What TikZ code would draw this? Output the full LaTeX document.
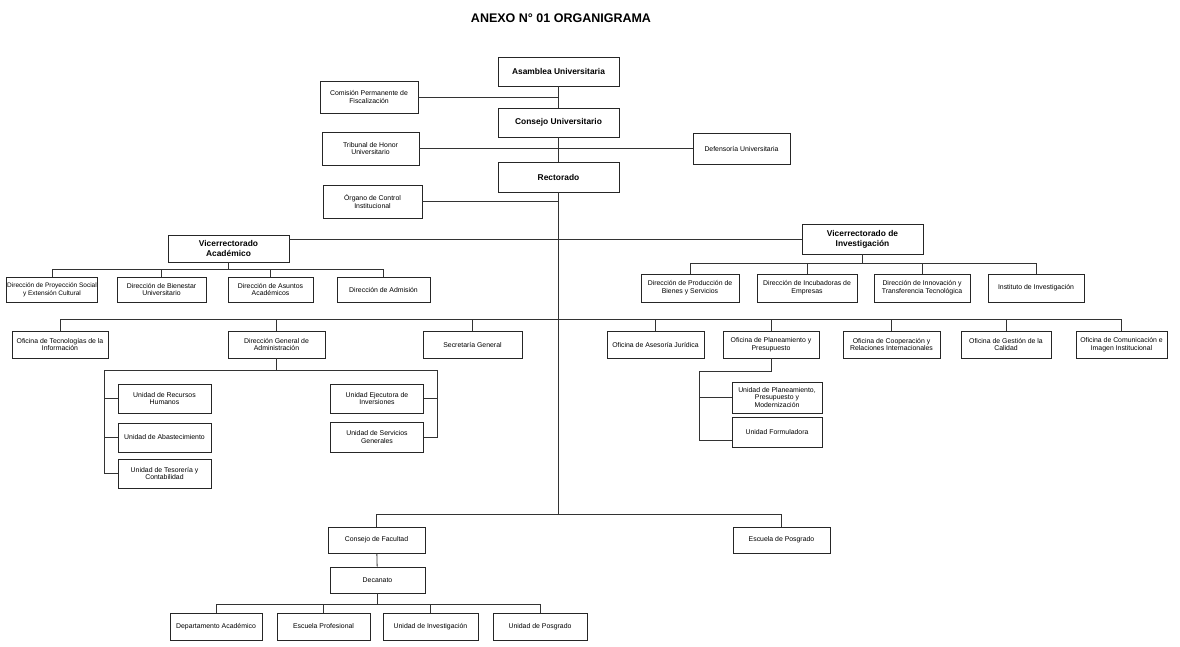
\documentclass[tikz,border=0pt]{standalone}
\usepackage{fontspec}
\setmainfont{Liberation Sans}

\begin{document}
\begin{tikzpicture}[x=1pt,y=-1pt,
        caja/.style={draw=black!85, line width=0.9pt, align=center, inner sep=1pt,
            font=\fontsize{6.9}{7.9}\selectfont, minimum width=#1, minimum height=27pt},
        caja/.default=96pt,
        jefe/.style={caja=#1, font=\fontsize{8.4}{10}\selectfont\bfseries},
        jefe/.default=121pt,
        linea/.style={draw=black!80, line width=0.8pt}]

    \useasboundingbox (0,0) rectangle (1180,647);
    \node[font=\fontsize{12.5}{14}\selectfont\bfseries] (titulo) at (561,18) {ANEXO N° 01 ORGANIGRAMA};

    \node[jefe, minimum height=29pt] (asamblea) at (558.5,71.5) {Asamblea Universitaria};
    \node[caja=98pt, minimum height=32pt] (comision) at (369,97) {Comisión Permanente de\\Fiscalización};
    \node[jefe, minimum height=29pt] (consejo) at (558.5,122.5) {Consejo Universitario};
    \node[caja=97pt, minimum height=33pt] (tribunal) at (370.5,148.5) {Tribunal de Honor\\Universitario};
    \node[caja=97pt, minimum height=31pt] (defensoria) at (741.5,148.5) {Defensoría Universitaria};
    \node[jefe, minimum height=30pt] (rectorado) at (558.5,177) {Rectorado};
    \node[caja=99pt, minimum height=33pt] (organo) at (372.5,201.5) {Órgano de Control\\Institucional};

    \node[jefe, minimum height=27pt] (viceacad) at (228.5,248.5) {Vicerrectorado\\Académico};
    \node[jefe, minimum height=30pt] (viceinv) at (862.5,239) {Vicerrectorado de\\Investigación};

    \node[caja=90pt, minimum height=25pt, font=\fontsize{6.5}{7.6}\selectfont] (dps) at (52,289.5) {Dirección de Proyección Social\\y Extensión Cultural};
    \node[caja=89pt, minimum height=25pt] (dbu) at (161.5,289.5) {Dirección de Bienestar\\Universitario};
    \node[caja=85pt, minimum height=25pt] (daa) at (270.5,289.5) {Dirección de Asuntos\\Académicos};
    \node[caja=93pt, minimum height=25pt] (dad) at (383.5,289.5) {Dirección de Admisión};

    \node[caja=98pt, minimum height=28pt] (dpbs) at (690,288) {Dirección de Producción de\\Bienes y Servicios};
    \node[caja=100pt, minimum height=28pt] (die) at (807,288) {Dirección de Incubadoras de\\Empresas};
    \node[caja=96pt, minimum height=28pt] (ditt) at (922,288) {Dirección de Innovación y\\Transferencia Tecnológica};
    \node[caja=96pt, minimum height=28pt] (ii) at (1036,288) {Instituto de Investigación};

    \node[caja=96pt] (oti) at (60,344.5) {Oficina de Tecnologías de la\\Información};
    \node[caja=97pt] (dga) at (276.5,344.5) {Dirección General de\\Administración};
    \node[caja=99pt] (sg) at (472.5,344.5) {Secretaría General};
    \node[caja=97pt] (oaj) at (655.5,344.5) {Oficina de Asesoría Jurídica};
    \node[caja=96pt] (opp) at (771,344.5) {Oficina de Planeamiento y\\Presupuesto};
    \node[caja=97pt] (ocri) at (891.5,344.5) {Oficina de Cooperación y\\Relaciones Internacionales};
    \node[caja=90pt] (ogc) at (1006,344.5) {Oficina de Gestión de la\\Calidad};
    \node[caja=91pt] (ocii) at (1121.5,344.5) {Oficina de Comunicación e\\Imagen Institucional};

    \node[caja=93pt, minimum height=29pt] (urh) at (164.5,398.5) {Unidad de Recursos\\Humanos};
    \node[caja=93pt, minimum height=29pt] (uab) at (164.5,437.5) {Unidad de Abastecimiento};
    \node[caja=93pt, minimum height=29pt] (utc) at (164.5,473.5) {Unidad de Tesorería y\\Contabilidad};
    \node[caja=93pt, minimum height=29pt] (uei) at (377,398.5) {Unidad Ejecutora de\\Inversiones};
    \node[caja=93pt, minimum height=30pt] (usg) at (377,437) {Unidad de Servicios\\Generales};

    \node[caja=90pt, minimum height=31pt] (uppm) at (777,397.5) {Unidad de Planeamiento,\\Presupuesto y\\Modernización};
    \node[caja=90pt, minimum height=30pt] (uf) at (777,432) {Unidad Formuladora};

    \node[caja=97pt, minimum height=26pt] (cf) at (376.5,540) {Consejo de Facultad};
    \node[caja=97pt, minimum height=26pt] (ep) at (781.5,540) {Escuela de Posgrado};
    \node[caja=95pt, minimum height=26pt] (dec) at (377.5,580) {Decanato};

    \node[caja=92pt] (dac) at (216,626.5) {Departamento Académico};
    \node[caja=93pt] (epr) at (323.5,626.5) {Escuela Profesional};
    \node[caja=95pt] (ui) at (430.5,626.5) {Unidad de Investigación};
    \node[caja=94pt] (up) at (540,626.5) {Unidad de Posgrado};

    \draw[linea] (asamblea) -- (consejo);
    \draw[linea] (consejo) -- (rectorado);
    \draw[linea] (comision) -- (comision -| asamblea);
    \draw[linea] (tribunal) -- (defensoria);
    \draw[linea] (organo) -- (organo -| rectorado);
    \draw[linea] (viceacad.east |- viceinv.west) -- (viceinv.west);

    \foreach \n in {dps,dbu,daa,dad}
        \draw[linea] (viceacad.south) -- ++(0,7) -| (\n.north);
    \foreach \n in {dpbs,die,ditt,ii}
        \draw[linea] (viceinv.south) -- ++(0,9) -| (\n.north);
    \foreach \n in {oti,dga,sg,oaj,opp,ocri,ogc,ocii}
        \draw[linea] (rectorado.south) -- ++(0,127) -| (\n.north);
    \foreach \n in {cf,ep}
        \draw[linea] (rectorado.south) -- ++(0,322) -| (\n.north);

    \foreach \n in {urh,uab,utc}
        \draw[linea] (dga.south) -- ++(0,12) -| ([xshift=-13pt]\n.west) -- (\n.west);
    \foreach \n in {uei,usg}
        \draw[linea] (dga.south) -- ++(0,12) -| ([xshift=13.5pt]\n.east) -- (\n.east);

    \draw[linea] (opp.south) -- ++(0,13) -| ([xshift=-32pt]uppm.west) -- (uppm.west);
    \draw[linea] (opp.south) -- ++(0,13) -| ([xshift=-32pt,yshift=-8pt]uf.west) -- ([yshift=-8pt]uf.west);

    \draw[linea] (cf) -- (dec);
    \foreach \n in {dac,epr,ui,up}
        \draw[linea] (dec.south) -- ++(0,11) -| (\n.north);
\end{tikzpicture}
\end{document}
